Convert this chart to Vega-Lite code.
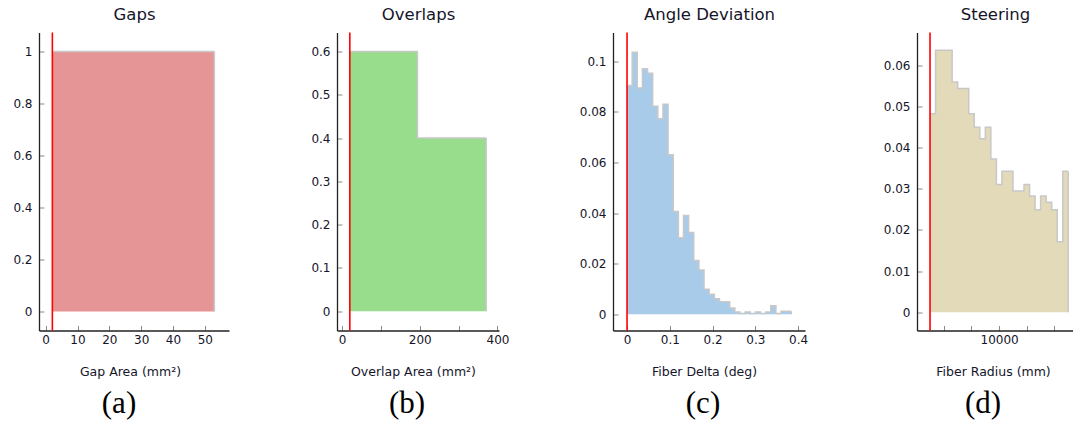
{
  "$schema": "https://vega.github.io/schema/vega-lite/v6.json",
  "padding": {"left": 11, "top": 6.5, "right": 0, "bottom": 0},
  "background": "white",
  "spacing": 0,
  "config": {
    "view": {"stroke": null},
    "concat": {"spacing": 0},
    "title": {"font": "Liberation Serif", "fontSize": 31, "fontWeight": "normal", "color": "#000000", "offset": 11, "orient": "bottom", "anchor": "middle", "frame": "group"},
    "axis": {
      "grid": false,
      "labelFont": "DejaVu Sans",
      "labelFontSize": 12,
      "labelColor": "#15152a",
      "titleFont": "DejaVu Sans",
      "titleFontSize": 12.5,
      "titleFontWeight": "normal",
      "titleColor": "#15152a",
      "domainColor": "#222222",
      "domainWidth": 1.3,
      "tickColor": "#8a8a8a",
      "tickWidth": 1,
      "tickSize": -5,
      "format": "~f"
    },
    "axisX": {"labelPadding": 9, "titlePadding": 20},
    "axisY": {"labelPadding": 12}
  },
  "datasets": {
    "limits": [
      {"panel": "a", "limit": 2.1},
      {"panel": "b", "limit": 20},
      {"panel": "c", "limit": 0},
      {"panel": "d", "limit": 5000}
    ],
    "gaps": [
      {"x0": 2.1, "x1": 53.0, "density": 1}
    ],
    "overlaps": [
      {"x0": 20, "x1": 194, "density": 0.6},
      {"x0": 194, "x1": 371, "density": 0.4}
    ],
    "angle": [
      {"x0": 0, "x1": 0.012, "density": 0.0904},
      {"x0": 0.012, "x1": 0.024, "density": 0.1036},
      {"x0": 0.024, "x1": 0.036, "density": 0.0895},
      {"x0": 0.036, "x1": 0.048, "density": 0.0971},
      {"x0": 0.048, "x1": 0.06, "density": 0.0953},
      {"x0": 0.06, "x1": 0.072, "density": 0.0822},
      {"x0": 0.072, "x1": 0.084, "density": 0.0773},
      {"x0": 0.084, "x1": 0.096, "density": 0.083},
      {"x0": 0.096, "x1": 0.108, "density": 0.0631},
      {"x0": 0.108, "x1": 0.12, "density": 0.0406},
      {"x0": 0.12, "x1": 0.132, "density": 0.0303},
      {"x0": 0.132, "x1": 0.144, "density": 0.0391},
      {"x0": 0.144, "x1": 0.156, "density": 0.0323},
      {"x0": 0.156, "x1": 0.168, "density": 0.0213},
      {"x0": 0.168, "x1": 0.18, "density": 0.0175},
      {"x0": 0.18, "x1": 0.192, "density": 0.0099},
      {"x0": 0.192, "x1": 0.204, "density": 0.0079},
      {"x0": 0.204, "x1": 0.216, "density": 0.0062},
      {"x0": 0.216, "x1": 0.228, "density": 0.005},
      {"x0": 0.228, "x1": 0.24, "density": 0.005},
      {"x0": 0.24, "x1": 0.252, "density": 0.0025},
      {"x0": 0.252, "x1": 0.264, "density": 0.0009},
      {"x0": 0.264, "x1": 0.276, "density": 0.0003},
      {"x0": 0.276, "x1": 0.288, "density": 0.0009},
      {"x0": 0.288, "x1": 0.3, "density": 0.0003},
      {"x0": 0.3, "x1": 0.312, "density": 0.0009},
      {"x0": 0.312, "x1": 0.324, "density": 0.0003},
      {"x0": 0.324, "x1": 0.336, "density": 0.0009},
      {"x0": 0.336, "x1": 0.348, "density": 0.0034},
      {"x0": 0.348, "x1": 0.36, "density": 0.0003},
      {"x0": 0.36, "x1": 0.372, "density": 0.0012},
      {"x0": 0.372, "x1": 0.384, "density": 0.0012}
    ],
    "steering": [
      {"x0": 5000, "x1": 5400, "density": 0.0482},
      {"x0": 5400, "x1": 5800, "density": 0.0636},
      {"x0": 5800, "x1": 6200, "density": 0.0636},
      {"x0": 6200, "x1": 6600, "density": 0.0636},
      {"x0": 6600, "x1": 7000, "density": 0.0559},
      {"x0": 7000, "x1": 7400, "density": 0.0543},
      {"x0": 7400, "x1": 7800, "density": 0.0543},
      {"x0": 7800, "x1": 8200, "density": 0.0482},
      {"x0": 8200, "x1": 8600, "density": 0.0449},
      {"x0": 8600, "x1": 9000, "density": 0.0421},
      {"x0": 9000, "x1": 9400, "density": 0.0449},
      {"x0": 9400, "x1": 9800, "density": 0.0372},
      {"x0": 9800, "x1": 10200, "density": 0.031},
      {"x0": 10200, "x1": 10600, "density": 0.0342},
      {"x0": 10600, "x1": 11000, "density": 0.0342},
      {"x0": 11000, "x1": 11400, "density": 0.0294},
      {"x0": 11400, "x1": 11800, "density": 0.0294},
      {"x0": 11800, "x1": 12200, "density": 0.031},
      {"x0": 12200, "x1": 12600, "density": 0.0282},
      {"x0": 12600, "x1": 13000, "density": 0.0249},
      {"x0": 13000, "x1": 13400, "density": 0.0282},
      {"x0": 13400, "x1": 13800, "density": 0.0267},
      {"x0": 13800, "x1": 14200, "density": 0.0249},
      {"x0": 14200, "x1": 14600, "density": 0.0171},
      {"x0": 14600, "x1": 15000, "density": 0.0342}
    ]
  },
  "hconcat": [
    {
      "width": 190, "height": 298,
      "title": {"text": "(a)", "dx": -15},
      "resolve": {"axis": {"x": "independent"}},
      "layer": [
        {
          "data": {"name": "gaps"},
          "transform": [{"fold": ["x0", "x1"], "as": ["edge", "pos"]}],
          "mark": {"type": "area", "fill": "#e59595", "opacity": 1},
          "encoding": {
            "x": {"field": "pos", "type": "quantitative", "title": "Gap Area (mm²)", "scale": {"domain": [-2.1, 57.6], "nice": false, "zero": false}, "axis": {"values": [0, 10, 20, 30, 40, 50], "titleX": 91}},
            "y": {"field": "density", "type": "quantitative", "stack": null, "title": null, "scale": {"domain": [-0.0735, 1.0727], "nice": false, "zero": false}, "axis": {"values": [0, 0.2, 0.4, 0.6, 0.8, 1], "minExtent": 28, "maxExtent": 28}},
            "y2": {"datum": 0}
          }
        },
        {
          "data": {"name": "gaps"},
          "transform": [{"fold": ["x0", "x1"], "as": ["edge", "pos"]}],
          "mark": {"type": "line", "color": "#c8c8c8", "strokeWidth": 1.5},
          "encoding": {
            "x": {"field": "pos", "type": "quantitative", "axis": null},
            "y": {"field": "density", "type": "quantitative", "title": null},
            "order": [{"field": "pos", "type": "quantitative"}, {"field": "x0", "type": "quantitative"}]
          }
        },
        {
          "data": {"name": "gaps"},
          "transform": [{"aggregate": [{"op": "argmax", "field": "x1", "as": "last"}]}],
          "mark": {"type": "rule", "color": "#c8c8c8", "strokeWidth": 1.5},
          "encoding": {
            "x": {"field": "last.x1", "type": "quantitative", "axis": null},
            "y": {"field": "last.density", "type": "quantitative", "title": null},
            "y2": {"datum": 0}
          }
        },
        {
          "data": {"name": "limits"},
          "transform": [{"filter": "datum.panel === 'a'"}],
          "mark": {"type": "rule", "color": "#ff0000", "strokeWidth": 1.6},
          "encoding": {
            "x": {"field": "limit", "type": "quantitative", "title": "Gaps", "axis": {"orient": "top", "labels": false, "ticks": false, "domain": false, "titleFontSize": 16.5, "titlePadding": 10, "minExtent": 0, "maxExtent": 0}}
          }
        }
      ]
    },
    {
      "width": 162, "height": 298,
      "title": {"text": "(b)", "dx": -11},
      "resolve": {"axis": {"x": "independent"}},
      "layer": [
        {
          "data": {"name": "overlaps"},
          "transform": [{"fold": ["x0", "x1"], "as": ["edge", "pos"]}],
          "mark": {"type": "area", "fill": "#98dd8c", "opacity": 1},
          "encoding": {
            "x": {"field": "pos", "type": "quantitative", "title": "Overlap Area (mm²)", "scale": {"domain": [-13, 404], "nice": false, "zero": false}, "axis": {"values": [0, 100, 200, 300, 400], "labelExpr": "datum.value % 200 === 0 ? datum.label : ''", "titleX": 76}},
            "y": {"field": "density", "type": "quantitative", "stack": null, "title": null, "scale": {"domain": [-0.0445, 0.6437], "nice": false, "zero": false}, "axis": {"values": [0, 0.1, 0.2, 0.3, 0.4, 0.5, 0.6], "minExtent": 108, "maxExtent": 108}},
            "y2": {"datum": 0}
          }
        },
        {
          "data": {"name": "overlaps"},
          "transform": [{"fold": ["x0", "x1"], "as": ["edge", "pos"]}],
          "mark": {"type": "line", "color": "#c8c8c8", "strokeWidth": 1.5},
          "encoding": {
            "x": {"field": "pos", "type": "quantitative", "axis": null},
            "y": {"field": "density", "type": "quantitative", "title": null},
            "order": [{"field": "pos", "type": "quantitative"}, {"field": "x0", "type": "quantitative"}]
          }
        },
        {
          "data": {"name": "overlaps"},
          "transform": [{"aggregate": [{"op": "argmax", "field": "x1", "as": "last"}]}],
          "mark": {"type": "rule", "color": "#c8c8c8", "strokeWidth": 1.5},
          "encoding": {
            "x": {"field": "last.x1", "type": "quantitative", "axis": null},
            "y": {"field": "last.density", "type": "quantitative", "title": null},
            "y2": {"datum": 0}
          }
        },
        {
          "data": {"name": "limits"},
          "transform": [{"filter": "datum.panel === 'b'"}],
          "mark": {"type": "rule", "color": "#ff0000", "strokeWidth": 1.6},
          "encoding": {
            "x": {"field": "limit", "type": "quantitative", "title": "Overlaps", "axis": {"orient": "top", "labels": false, "ticks": false, "domain": false, "titleFontSize": 16.5, "titlePadding": 10, "minExtent": 0, "maxExtent": 0}}
          }
        }
      ]
    },
    {
      "width": 192, "height": 298,
      "title": {"text": "(c)", "dx": -6},
      "resolve": {"axis": {"x": "independent"}},
      "layer": [
        {
          "data": {"name": "angle"},
          "transform": [{"fold": ["x0", "x1"], "as": ["edge", "pos"]}],
          "mark": {"type": "area", "fill": "#a9cbea", "opacity": 1},
          "encoding": {
            "x": {"field": "pos", "type": "quantitative", "title": "Fiber Delta (deg)", "scale": {"domain": [-0.0328, 0.416], "nice": false, "zero": false}, "axis": {"values": [0, 0.1, 0.2, 0.3, 0.4], "titleX": 91}},
            "y": {"field": "density", "type": "quantitative", "stack": null, "title": null, "scale": {"domain": [-0.0064, 0.1114], "nice": false, "zero": false}, "axis": {"values": [0, 0.02, 0.04, 0.06, 0.08, 0.1], "minExtent": 104, "maxExtent": 104}},
            "y2": {"datum": 0}
          }
        },
        {
          "data": {"name": "angle"},
          "transform": [{"fold": ["x0", "x1"], "as": ["edge", "pos"]}],
          "mark": {"type": "line", "color": "#c8c8c8", "strokeWidth": 1.5},
          "encoding": {
            "x": {"field": "pos", "type": "quantitative", "axis": null},
            "y": {"field": "density", "type": "quantitative", "title": null},
            "order": [{"field": "pos", "type": "quantitative"}, {"field": "x0", "type": "quantitative"}]
          }
        },
        {
          "data": {"name": "angle"},
          "transform": [{"aggregate": [{"op": "argmax", "field": "x1", "as": "last"}]}],
          "mark": {"type": "rule", "color": "#c8c8c8", "strokeWidth": 1.5},
          "encoding": {
            "x": {"field": "last.x1", "type": "quantitative", "axis": null},
            "y": {"field": "last.density", "type": "quantitative", "title": null},
            "y2": {"datum": 0}
          }
        },
        {
          "data": {"name": "limits"},
          "transform": [{"filter": "datum.panel === 'c'"}],
          "mark": {"type": "rule", "color": "#ff0000", "strokeWidth": 1.6},
          "encoding": {
            "x": {"field": "limit", "type": "quantitative", "title": "Angle Deviation", "axis": {"orient": "top", "labels": false, "ticks": false, "domain": false, "titleFontSize": 16.5, "titlePadding": 10, "minExtent": 0, "maxExtent": 0}}
          }
        }
      ]
    },
    {
      "width": 156, "height": 298,
      "title": {"text": "(d)", "dx": -12},
      "resolve": {"axis": {"x": "independent"}},
      "layer": [
        {
          "data": {"name": "steering"},
          "transform": [{"fold": ["x0", "x1"], "as": ["edge", "pos"]}],
          "mark": {"type": "area", "fill": "#e2dab9", "opacity": 1},
          "encoding": {
            "x": {"field": "pos", "type": "quantitative", "title": "Fiber Radius (mm)", "scale": {"domain": [4058, 15342], "nice": false, "zero": false}, "axis": {"values": [6000, 8000, 10000, 12000, 14000], "labelExpr": "datum.value === 10000 ? datum.label : ''", "titleX": 76}},
            "y": {"field": "density", "type": "quantitative", "stack": null, "title": null, "scale": {"domain": [-0.00444, 0.0679], "nice": false, "zero": false}, "axis": {"values": [0, 0.01, 0.02, 0.03, 0.04, 0.05, 0.06], "minExtent": 109, "maxExtent": 109}},
            "y2": {"datum": 0}
          }
        },
        {
          "data": {"name": "steering"},
          "transform": [{"fold": ["x0", "x1"], "as": ["edge", "pos"]}],
          "mark": {"type": "line", "color": "#c8c8c8", "strokeWidth": 1.5},
          "encoding": {
            "x": {"field": "pos", "type": "quantitative", "axis": null},
            "y": {"field": "density", "type": "quantitative", "title": null},
            "order": [{"field": "pos", "type": "quantitative"}, {"field": "x0", "type": "quantitative"}]
          }
        },
        {
          "data": {"name": "steering"},
          "transform": [{"aggregate": [{"op": "argmax", "field": "x1", "as": "last"}]}],
          "mark": {"type": "rule", "color": "#c8c8c8", "strokeWidth": 1.5},
          "encoding": {
            "x": {"field": "last.x1", "type": "quantitative", "axis": null},
            "y": {"field": "last.density", "type": "quantitative", "title": null},
            "y2": {"datum": 0}
          }
        },
        {
          "data": {"name": "limits"},
          "transform": [{"filter": "datum.panel === 'd'"}],
          "mark": {"type": "rule", "color": "#ff0000", "strokeWidth": 1.6},
          "encoding": {
            "x": {"field": "limit", "type": "quantitative", "title": "Steering", "axis": {"orient": "top", "labels": false, "ticks": false, "domain": false, "titleFontSize": 16.5, "titlePadding": 10, "minExtent": 0, "maxExtent": 0}}
          }
        }
      ]
    }
  ]
}
